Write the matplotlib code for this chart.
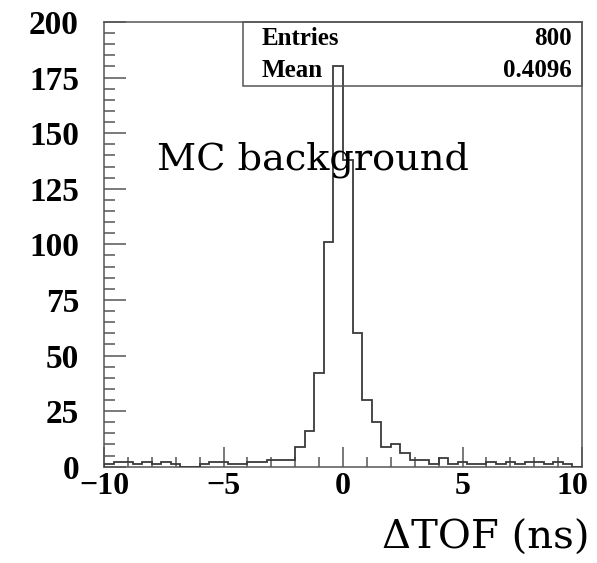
import matplotlib
matplotlib.use("Agg")
import matplotlib.pyplot as plt
import matplotlib.transforms as mtransforms
import numpy as np
from matplotlib.ticker import MultipleLocator
from matplotlib.patches import Rectangle

# ---- data -------------------------------------------------------------
x_range = (-10.0, 10.0)
n_bins = 50
counts = [
    # -10 .. -2.4
    1, 2, 2, 1, 2, 1, 2, 1, 0, 0, 1, 2, 2, 1, 1, 2, 2, 3, 3,
    # -2.4 .. 4.8
    3, 9, 16, 42, 101, 180, 138, 60, 30, 20, 9, 10, 6, 3, 3, 1, 4, 1,
    # 4.8 .. 10
    2, 1, 1, 2, 1, 2, 1, 2, 2, 1, 2, 1, 0,
]
x_ticks = [-10, -5, 0, 5, 10]
y_ticks = [0, 25, 50, 75, 100, 125, 150, 175, 200]
stats_labels = ["Entries", "Mean"]
stats_values = ["800", "0.4096"]
title_text = "MC background"
xlabel_text = "\u0394TOF (ns)"

# ---- figure -------------------------------------------------------------
W, H = 597, 563
fig = plt.figure(figsize=(W / 100, H / 100), dpi=100)
ax_l, ax_r, ax_t, ax_b = 104, 582, 22, 466.7
ax = fig.add_axes([ax_l / W, (H - ax_b) / H, (ax_r - ax_l) / W, (ax_b - ax_t) / H])

edges = np.linspace(x_range[0], x_range[1], n_bins + 1)
line_col = "#3a3a3a"
ax.stairs(counts, edges, baseline=0, fill=False, color=line_col, lw=1.3, zorder=3)

ax.set_xlim(*x_range)
ax.set_ylim(0, 200)
ax.set_xticks(x_ticks)
ax.set_yticks(y_ticks)
ax.xaxis.set_minor_locator(MultipleLocator(1))
ax.yaxis.set_minor_locator(MultipleLocator(5))

xtick_font = dict(family="Liberation Serif", weight="bold", size=23)
ytick_font = dict(family="Liberation Serif", weight="bold", size=24)
ax.set_xticklabels([f"{v:d}".replace("-", "\u2212") for v in x_ticks], fontdict=xtick_font)
ax.set_yticklabels([str(v) for v in y_ticks], fontdict=ytick_font)

ax.tick_params(axis="x", which="major", direction="in", length=14.5, width=1.1,
               color="#555555", pad=4, top=False)
ax.tick_params(axis="x", which="minor", direction="in", length=7.2, width=1.1,
               color="#555555", top=False)
ax.tick_params(axis="y", which="major", direction="in", length=16, width=1.1,
               color="#555555", pad=18, right=False)
ax.tick_params(axis="y", which="minor", direction="in", length=8, width=1.1,
               color="#555555", right=False)
for s in ax.spines.values():
    s.set_color("#555555")
    s.set_linewidth(1.1)

# keep the last x label inside the picture, as in the reference
last = ax.xaxis.get_major_ticks()[-1].label1
last.set_transform(last.get_transform() +
                   mtransforms.ScaledTranslation(-7 / 72, 0, fig.dpi_scale_trans))

# ---- stats box ----------------------------------------------------------
bx0 = (242.7 - ax_l) / (ax_r - ax_l)
by0 = (ax_b - 86) / (ax_b - ax_t)
ax.add_patch(Rectangle((bx0, by0), 1 - bx0, 1 - by0, transform=ax.transAxes,
                       fill=False, edgecolor="#555555", lw=1.1, zorder=4, clip_on=False))
stat_font = dict(family="Liberation Serif", weight="bold", size=18)
row_y = [(ax_b - 45) / (ax_b - ax_t), (ax_b - 77) / (ax_b - ax_t)]
for lab, val, yy in zip(stats_labels, stats_values, row_y):
    ax.text((261.7 - ax_l) / (ax_r - ax_l), yy, lab, transform=ax.transAxes,
            ha="left", va="baseline", fontdict=stat_font, zorder=5)
    ax.text((572 - ax_l) / (ax_r - ax_l), yy, val, transform=ax.transAxes,
            ha="right", va="baseline", fontdict=stat_font, zorder=5)

# ---- annotations ----------------------------------------------------------
fig.text(157 / W, (H - 170) / H, title_text, family="DejaVu Serif", size=27.5,
         ha="left", va="baseline", zorder=6)
fig.text(590 / W, (H - 549) / H, xlabel_text, family="DejaVu Serif", size=29,
         ha="right", va="baseline")

fig.savefig("out.png", dpi=100)
